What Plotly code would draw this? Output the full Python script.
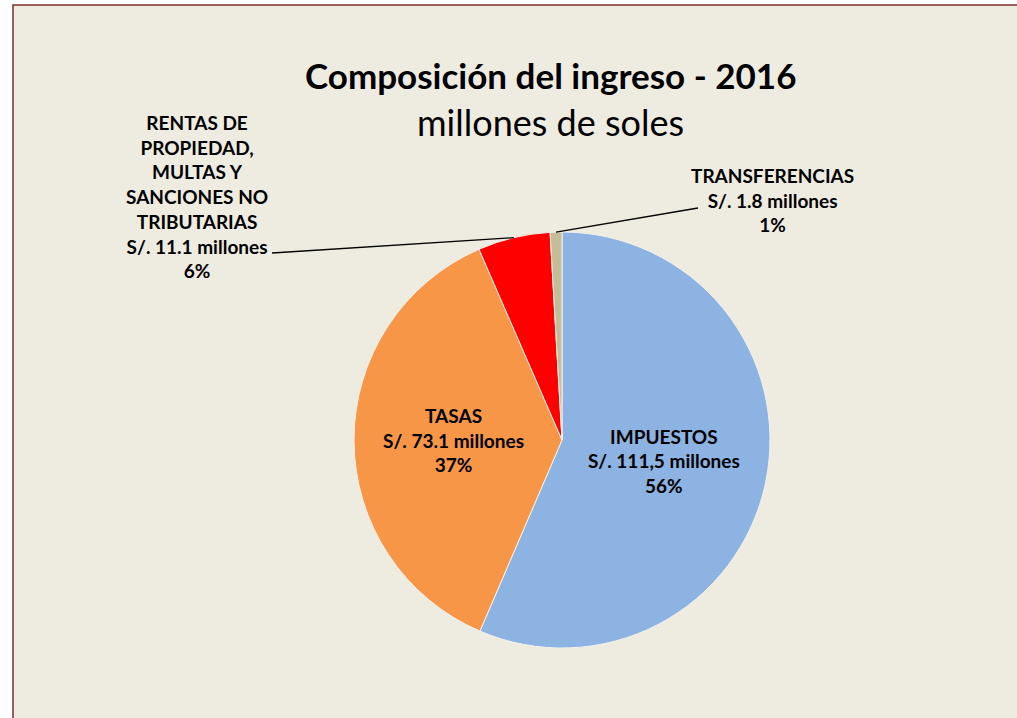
import plotly.graph_objects as go
import math

# ---- data ----
categorias = ["IMPUESTOS", "TASAS",
              "RENTAS DE PROPIEDAD, MULTAS Y SANCIONES NO TRIBUTARIAS",
              "TRANSFERENCIAS"]
etiquetas = ["IMPUESTOS", "TASAS",
             "RENTAS DE<br>PROPIEDAD,<br>MULTAS Y<br>SANCIONES NO<br>TRIBUTARIAS",
             "TRANSFERENCIAS"]
valores = [111.5, 73.1, 11.1, 1.8]          # millones de soles
valores_texto = ["111,5", "73.1", "11.1", "1.8"]
colores = ["#8DB3E2", "#F79646", "#FF0000", "#C4BD97"]

titulo = "Composición del ingreso - 2016"
subtitulo = "millones de soles"

W, H = 1017, 718
FONT = "Lato"
BG = "#EEECE1"

# pie placement (pixels)
cx, cy, R = 562, 440, 208
dom_x = [(cx - R) / W, (cx + R) / W]
dom_y = [(H - cy - R) / H, (H - cy + R) / H]

fig = go.Figure()
fig.add_trace(go.Pie(
    labels=etiquetas,
    values=valores,
    customdata=valores_texto,
    sort=False,
    direction="clockwise",
    rotation=0,
    marker=dict(colors=colores, line=dict(color="#F4F1EA", width=1)),
    texttemplate="<b>%{label}<br>S/. %{customdata} millones<br>%{percent:.0%}</b>",
    textposition=["inside", "inside", "none", "none"],
    insidetextorientation="horizontal",
    insidetextfont=dict(family=FONT, size=19, color="black"),
    hoverinfo="label+value+percent",
    domain=dict(x=dom_x, y=dom_y),
    showlegend=False,
))

# outside labels with leader lines, tips computed from slice geometry
total = sum(valores)
cum = 0
mids = []
for v in valores:
    mids.append((cum + v / 2) / total)
    cum += v

def tip(i):
    a = 2 * math.pi * mids[i]
    return (cx + R * math.sin(a), cy - R * math.cos(a))

annotations = []
shapes = []
label_pos = {2: (197, 196, 272, 253), 3: (772, 200, 698, 208)}
for i, (lx, ly, tx, ty) in label_pos.items():
    pct = valores[i] / total
    annotations.append(dict(
        x=lx / W, y=1 - ly / H, xref="paper", yref="paper",
        text=f"<b>{etiquetas[i]}<br>S/. {valores_texto[i]} millones<br>{pct:.0%}</b>",
        showarrow=False, align="center",
        font=dict(family=FONT, size=19, color="black"),
        xanchor="center", yanchor="middle",
    ))
    px, py = tip(i)
    shapes.append(dict(type="line", xref="paper", yref="paper",
                       x0=tx / W, y0=1 - ty / H, x1=px / W, y1=1 - py / H,
                       line=dict(color="black", width=1.3)))

annotations.append(dict(x=550 / W, y=1 - 75 / H, xref="paper", yref="paper",
                        text=f"<b>{titulo}</b>", showarrow=False,
                        font=dict(family=FONT, size=35, color="black"),
                        xanchor="center", yanchor="middle"))
annotations.append(dict(x=550 / W, y=1 - 122 / H, xref="paper", yref="paper",
                        text=subtitulo, showarrow=False,
                        font=dict(family=FONT, size=36, color="black"),
                        xanchor="center", yanchor="middle"))

# chart background and border
shapes.insert(0, dict(type="rect", xref="paper", yref="paper",
                      x0=13 / W, x1=1.01, y0=-0.01, y1=1 - 5 / H,
                      fillcolor=BG, line=dict(color="#7B2F2C", width=1.5),
                      layer="below"))

fig.update_layout(
    width=W, height=H,
    margin=dict(l=0, r=0, t=0, b=0),
    paper_bgcolor="white",
    plot_bgcolor=BG,
    annotations=annotations,
    shapes=shapes,
    font=dict(family=FONT),
)

fig.write_html("out.html", config={"displayModeBar": False},
               post_script="document.body.style.margin='0';")
